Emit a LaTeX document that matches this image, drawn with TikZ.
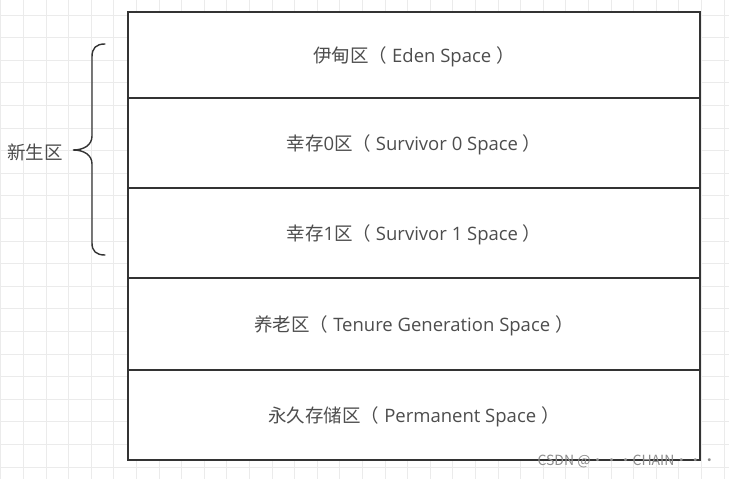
\documentclass[tikz,border=0pt]{standalone}
\usepackage{fontspec}
\newfontfamily\zh{Noto Sans CJK SC}
\newfontfamily\latin{Open Sans}
\usetikzlibrary{positioning}
\definecolor{gridgray}{HTML}{EBEBEB}
\definecolor{textgray}{HTML}{4D4D4D}
\definecolor{linegray}{HTML}{333333}
\definecolor{markgray}{HTML}{8C8C8C}

\begin{document}
\begin{tikzpicture}[
    x=1pt, y=-1pt,
    region/.style={rectangle, draw=linegray, line width=1.6pt, fill=white, minimum width=572pt, outer sep=0pt, inner sep=0pt, text height=19pt, text depth=4pt, font=\latin\fontsize{18.5}{22}\selectfont, text=textgray},
    sidetext/.style={font=\zh\fontsize{18.5}{22}\selectfont, text=textgray},
    watermark/.style={font=\zh\fontsize{14}{16}\selectfont, text=markgray},
    gridline/.style={draw=gridgray, line width=0.8pt},
    bracket/.style={draw=linegray, line width=1.4pt, line cap=round}
]
\useasboundingbox (0,0) rectangle (729,479);

% Background grid
\foreach \i in {0,...,32}
    \draw[gridline] ({0.7+22.6*\i},0) -- ({0.7+22.6*\i},479);
\foreach \j in {1,...,21}
    \draw[gridline] (0,{-7.6+22.6*\j}) -- (729,{-7.6+22.6*\j});

% Heap regions
\node[region, minimum height=86pt] (eden) at (414,55) {{\zh 伊甸区（} Eden Space {\zh ）}};
\node[region, minimum height=90pt, below=0pt of eden] (surv0) {{\zh 幸存}0{\zh 区（} Survivor 0 Space {\zh ）}};
\node[region, minimum height=90pt, below=0pt of surv0] (surv1) {{\zh 幸存}1{\zh 区（} Survivor 1 Space {\zh ）}};
\node[region, minimum height=92pt, below=0pt of surv1] (tenure) {{\zh 养老区（} Tenure Generation Space {\zh ）}};
\node[region, minimum height=90pt, below=0pt of tenure] (perm) {{\zh 永久存储区（} Permanent Space {\zh ）}};

% Young generation brace
\draw[bracket] (105,44) .. controls (96,44) and (92,48) .. (92,57) -- (92,136)
    .. controls (92,145) and (84,150) .. (73,150)
    .. controls (84,150) and (92,155) .. (92,164) -- (92,243)
    .. controls (92,251) and (96,255) .. (105,255);
\node[sidetext] (young) at (35,152) {新生区};

% Watermark
\node[watermark] (mark) at (627,461) {CSDN @···CHAIN···};

\end{tikzpicture}
\end{document}
